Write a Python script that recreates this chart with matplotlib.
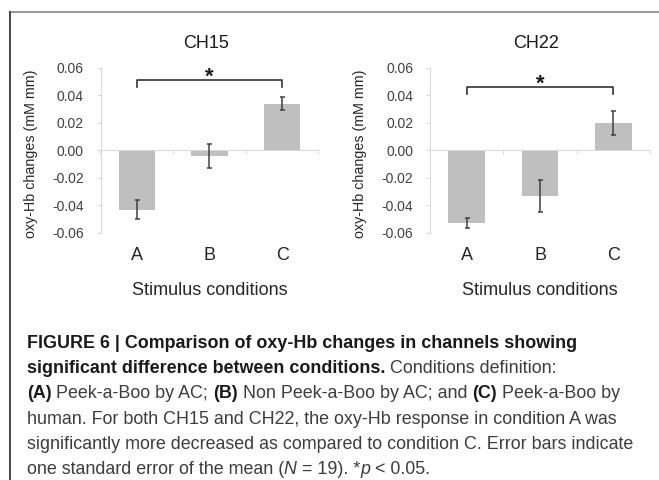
import matplotlib
matplotlib.use('Agg')
import matplotlib.pyplot as plt
from matplotlib import font_manager
from matplotlib.lines import Line2D
import numpy as np

# ---- data ----
conditions = ['A', 'B', 'C']
channels = ['CH15', 'CH22']
ch15_mean = [-0.043, -0.004, 0.034]
ch15_sem = [0.0068, 0.0085, 0.0045]
ch22_mean = [-0.0525, -0.033, 0.0196]
ch22_sem = [0.0037, 0.0118, 0.0087]
y_ticks = [-0.06, -0.04, -0.02, 0.00, 0.02, 0.04, 0.06]
sig_label = '*'

caption_lines = [
    [('FIGURE 6 | Comparison of oxy-Hb changes in channels showing', 'b', False)],
    [('significant difference between conditions.', 'b', False),
     ('Conditions definition:', 'r', True)],
    [('(A)', 'b', False), ('Peek-a-Boo by AC;', 'r', True),
     ('(B)', 'b', True), ('Non Peek-a-Boo by AC; and', 'r', True),
     ('(C)', 'b', True), ('Peek-a-Boo by', 'r', True)],
    [('human. For both CH15 and CH22, the oxy-Hb response in condition A was', 'r', False)],
    [('significantly more decreased as compared to condition C. Error bars indicate', 'r', False)],
    [('one standard error of the mean (', 'r', False), ('N', 'i', False),
     ('= 19). *', 'r', True), ('p', 'i', False), ('< 0.05.', 'r', True)],
]

W, H = 659, 480
plt.rcParams['font.family'] = ['Liberation Sans', 'DejaVu Sans']

fig = plt.figure(figsize=(W / 100, H / 100), dpi=100)
fig.patch.set_facecolor('white')


def px_box(x0, y0, x1, y1):
    return [x0 / W, 1 - y1 / H, (x1 - x0) / W, (y1 - y0) / H]


panels = [
    dict(name=channels[0], mean=ch15_mean, sem=ch15_sem,
         box=px_box(100.5, 67.7, 318.5, 233), br_y=0.0514, br_drop=0.0055),
    dict(name=channels[1], mean=ch22_mean, sem=ch22_sem,
         box=px_box(430, 67.7, 650, 233), br_y=0.0457, br_drop=0.0049),
]

x = np.arange(len(conditions))
for p in panels:
    ax = fig.add_axes(p['box'])
    ax.bar(x, p['mean'], width=0.5, color='#bfbfbf', zorder=2)
    ax.errorbar(x, p['mean'], yerr=p['sem'], fmt='none', ecolor='#404040',
                elinewidth=1.1, capsize=1.8, capthick=1.1, zorder=3)
    ax.set_xlim(-0.5, len(conditions) - 0.5)
    ax.set_ylim(-0.06, 0.06)
    ax.set_yticks(y_ticks)
    ax.set_yticklabels(['%.2f' % v for v in y_ticks])
    ax.tick_params(axis='y', direction='out', length=3, width=0.75,
                   color='#d9d9d9', labelsize=10, labelcolor='#404040', pad=9)
    ax.set_xticks(np.arange(len(conditions) + 1) - 0.5)
    ax.set_xticklabels([])
    ax.tick_params(axis='x', direction='out', length=3, width=0.75,
                   color='#d9d9d9')
    for s in ['top', 'right']:
        ax.spines[s].set_visible(False)
    ax.spines['left'].set_color('#d9d9d9')
    ax.spines['left'].set_linewidth(0.75)
    ax.spines['bottom'].set_position(('data', 0))
    ax.spines['bottom'].set_color('#d9d9d9')
    ax.spines['bottom'].set_linewidth(0.75)

    for xi, c in zip(x, conditions):
        ax.text(xi, -0.136, c, transform=ax.get_xaxis_transform(),
                ha='center', va='center', fontsize=13, color='#262626')

    ax.set_ylabel('oxy-Hb changes (mM mm)', fontsize=10.3, color='#262626')
    ax.yaxis.label.set_va('center')
    ax.yaxis.set_label_coords(-0.318, 0.48)

    ax.text(0.483, 1.149, p['name'], transform=ax.transAxes, ha='center',
            va='center', fontsize=13, color='#1a1a1a')
    ax.text(0.5, -0.345, 'Stimulus conditions', transform=ax.transAxes,
            ha='center', va='center', fontsize=13, color='#262626')

    # significance bracket between A and C
    by, bd = p['br_y'], p['br_drop']
    ax.plot([x[0], x[0], x[-1], x[-1]], [by - bd, by, by, by - bd],
            color='#333333', lw=1.2, clip_on=False, zorder=4)
    ax.text(x[1], by + 0.002, sig_label, ha='center', va='center',
            fontsize=16, fontweight='bold', color='#1a1a1a')

# frame lines of the figure panel
fig.add_artist(Line2D([9.5 / W, 1], [1 - 12 / H, 1 - 12 / H],
                      transform=fig.transFigure, color='#8a8a8a', lw=1.2))
fig.add_artist(Line2D([9.5 / W, 9.5 / W], [0, 1 - 12 / H],
                      transform=fig.transFigure, color='#2a2a2a', lw=1.2))

# ---- caption ----
names = {f.name for f in font_manager.fontManager.ttflist}
cap_family = 'Liberation Sans Narrow' if 'Liberation Sans Narrow' in names else 'Liberation Sans'
renderer = fig.canvas.get_renderer()


def run_props(style):
    return dict(fontweight='bold' if style == 'b' else 'normal',
                fontstyle='italic' if style == 'i' else 'normal',
                color='#1a1a1a' if style == 'b' else '#3d3d3d',
                family=[cap_family, 'DejaVu Sans'])


def text_width(s, size, style):
    t = fig.text(0, 0, s, fontsize=size, **run_props(style))
    w = t.get_window_extent(renderer).width
    t.remove()
    return w


def line_width(runs, size):
    sp = text_width('x x', size, 'r') - text_width('xx', size, 'r')
    w = 0
    for s, st, gap in runs:
        if gap:
            w += sp
        w += text_width(s, size, st)
    return w


# fit the caption size so the longest line spans as in the reference
target = 608
size = 10.0 * target / line_width(caption_lines[4], 10.0)
space = text_width('x x', size, 'r') - text_width('xx', size, 'r')

x0 = 26.7
base0 = 347.5
step = 25.4
for i, runs in enumerate(caption_lines):
    xp = x0
    yp = base0 + i * step
    for s, st, gap in runs:
        if gap:
            xp += space
        t = fig.text(xp / W, 1 - yp / H, s, fontsize=size, ha='left',
                     va='baseline', **run_props(st))
        xp += t.get_window_extent(renderer).width

fig.savefig('out.png', dpi=100, facecolor='white')
